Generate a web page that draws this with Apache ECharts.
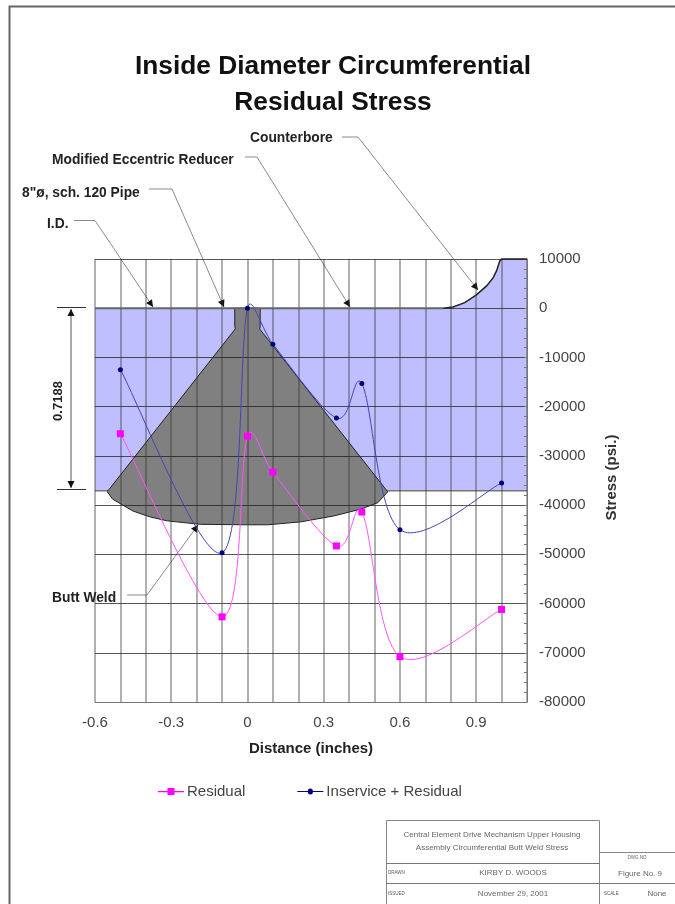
<!DOCTYPE html>
<html>
<head>
<meta charset="utf-8">
<title>Inside Diameter Circumferential Residual Stress</title>
<script src="https://cdn.jsdelivr.net/npm/echarts@6/dist/echarts.min.js"></script>
<style>
    html, body { margin: 0; padding: 0; background: #fff; }
    #chart { width: 675px; height: 904px; }
</style>
</head>
<body>
<div id="chart"></div>
<script>
const residual = [
    [-0.5, -25500], [-0.1, -62700], [0, -26000], [0.1, -33300],
    [0.35, -48300], [0.45, -41400], [0.6, -70800], [1.0, -61200],
];
const inservice = [
    [-0.5, -12500], [-0.1, -49700], [0, 0], [0.1, -7300],
    [0.35, -22300], [0.45, -15300], [0.6, -45000], [1.0, -35500],
];

// Cross section, in the chart's own distance / stress units
const counterbore = [
    [0.77, 0], [0.809, 260], [0.855, 1140], [0.901, 2700], [0.941, 4530],
    [0.967, 6220], [0.98, 7580], [0.993, 9610], [1.0, 10000], [1.1, 10000],
];
const pipeProfile = [[-0.6, 0], ...counterbore, [1.1, -37100], [-0.6, -37100]];
const pipeBore = [[-0.6, 0], [0.77, 0]];
const pipeOd = [[-0.6, -37100], [1.1, -37100]];
const weldProfile = [
    [-0.05, 0], [0.05, 0], [0.05, -3700], [0.048, -4200], [0.552, -37300], [0.513, -39500],
    [0.447, -40800], [0.34, -42200], [0.21, -43400], [0.08, -44000], [0, -44000],
    [-0.186, -43900], [-0.316, -43200], [-0.383, -42400], [-0.451, -41200],
    [-0.53, -38800], [-0.552, -37300], [-0.048, -4200], [-0.05, -3700],
];

const FONT = '"Liberation Sans", Arial, sans-serif';

function shapeSeries(points, style, z, closed) {
    return {
        type: 'custom',
        coordinateSystem: 'cartesian2d',
        silent: true,
        z,
        data: [points[0]],
        renderItem(params, api) {
            const coords = points.map((p) => api.coord(p));
            return {
                type: closed ? 'polygon' : 'polyline',
                shape: { points: coords },
                style,
            };
        },
    };
}

// control point offset along the tangent, kept short on short segments
function handle(prev, next, from, to) {
    const dx = (next[0] - prev[0]) / 6;
    const dy = (next[1] - prev[1]) / 6;
    const len = Math.hypot(dx, dy);
    const max = 0.4 * Math.hypot(to[0] - from[0], to[1] - from[1]);
    const k = len > max ? max / len : 1;
    return [dx * k, dy * k];
}

// The spreadsheet's smoothed line overshoots its points, which a line series' smooth does not do
function curveSeries(name, points, lineColor, markerColor, marker) {
    return {
        name,
        type: 'custom',
        coordinateSystem: 'cartesian2d',
        z: 6,
        itemStyle: { color: markerColor },
        encode: { x: 0, y: 1 },
        data: points,
        renderItem(params, api) {
            const i = params.dataIndex;
            const at = (k) => api.coord(points[Math.min(Math.max(k, 0), points.length - 1)]);
            const p = at(i);
            const children = [];
            if (i < points.length - 1) {
                const q = at(i + 1);
                const h1 = handle(at(i - 1), q, p, q);
                const h2 = handle(p, at(i + 2), p, q);
                children.push({
                    type: 'bezierCurve',
                    z2: 1,
                    shape: {
                        x1: p[0],
                        y1: p[1],
                        cpx1: p[0] + h1[0],
                        cpy1: p[1] + h1[1],
                        cpx2: q[0] - h2[0],
                        cpy2: q[1] - h2[1],
                        x2: q[0],
                        y2: q[1],
                    },
                    style: { stroke: lineColor, lineWidth: 1, fill: null },
                });
            }
            children.push(marker === 'rect'
                ? { type: 'rect', z2: 2, shape: { x: p[0] - 3.5, y: p[1] - 3.5, width: 7, height: 7 }, style: { fill: markerColor } }
                : { type: 'circle', z2: 2, shape: { cx: p[0], cy: p[1], r: 2.5 }, style: { fill: markerColor } });
            return { type: 'group', children };
        },
    };
}

function text(x, y, str, opts) {
    return {
        type: 'text',
        x,
        y,
        rotation: opts.rotation || 0,
        style: {
            text: str,
            font: `${opts.weight || 'normal'} ${opts.size}px ${FONT}`,
            fill: opts.color || '#222',
            align: opts.align || 'left',
            verticalAlign: 'middle',
        },
    };
}

function line(points, color, width) {
    return {
        type: 'polyline',
        shape: { points },
        style: { stroke: color || '#888', lineWidth: width || 1, fill: null },
    };
}

function arrowHead(tip, from) {
    const a = Math.atan2(tip[1] - from[1], tip[0] - from[0]);
    const len = 7;
    const w = 3.5;
    const bx = tip[0] - len * Math.cos(a);
    const by = tip[1] - len * Math.sin(a);
    return {
        type: 'polygon',
        shape: {
            points: [
                tip,
                [bx - w * Math.sin(a), by + w * Math.cos(a)],
                [bx + w * Math.sin(a), by - w * Math.cos(a)],
            ],
        },
        style: { fill: '#111' },
    };
}

function leader(points) {
    const n = points.length;
    return [line(points, '#8a8a8a'), arrowHead(points[n - 1], points[n - 2])];
}

const graphics = [
    // sheet border
    line([[9.5, 904], [9.5, 6.5], [675, 6.5]], '#666', 2),

    // callouts
    text(250, 138, 'Counterbore', { size: 13.8, weight: 'bold' }),
    text(52, 160, 'Modified Eccentric Reducer', { size: 13.8, weight: 'bold' }),
    text(22, 193, '8"ø, sch. 120 Pipe', { size: 13.8, weight: 'bold' }),
    text(47, 224, 'I.D.', { size: 13.8, weight: 'bold' }),
    text(52, 598, 'Butt Weld', { size: 13.8, weight: 'bold' }),
    ...leader([[342, 137], [358, 137], [478, 290]]),
    ...leader([[245, 157], [257, 157], [350, 307]]),
    ...leader([[149, 189], [172, 189], [224, 307]]),
    ...leader([[74, 220.5], [95, 220.5], [153, 307]]),
    ...leader([[127, 595], [147, 595], [198, 525]]),

    // wall thickness dimension
    line([[57, 307.5], [86, 307.5]], '#333'),
    line([[57, 489.5], [86, 489.5]], '#333'),
    line([[71, 309], [71, 488]], '#555'),
    arrowHead([71, 309], [71, 320]),
    arrowHead([71, 488], [71, 477]),
    text(58, 401, '0.7188', { size: 13, weight: 'bold', rotation: Math.PI / 2, align: 'center' }),

    // title block
    line([[386.5, 904], [386.5, 820.5], [599.5, 820.5], [599.5, 904]], '#888'),
    line([[386, 863.5], [600, 863.5]], '#777'),
    line([[386, 883.5], [675, 883.5]], '#777'),
    line([[600, 852.5], [675, 852.5]], '#888'),
    text(492, 835, 'Central Element Drive Mechanism Upper Housing', { size: 8, color: '#666', align: 'center' }),
    text(492, 848, 'Assembly Circumferential Butt Weld Stress', { size: 8, color: '#666', align: 'center' }),
    text(388, 873, 'DRAWN', { size: 4.5, color: '#555' }),
    text(388, 894, 'ISSUED', { size: 4.5, color: '#555' }),
    text(513, 873, 'KIRBY D. WOODS', { size: 8, color: '#666', align: 'center' }),
    text(513, 894, 'November 29, 2001', { size: 8, color: '#666', align: 'center' }),
    text(637, 858, 'DWG NO', { size: 4.5, color: '#666', align: 'center' }),
    text(640, 874, 'Figure No. 9', { size: 8, color: '#666', align: 'center' }),
    text(604, 894, 'SCALE', { size: 4.5, color: '#555' }),
    text(657, 894, 'None', { size: 8, color: '#666', align: 'center' }),
];

const option = {
    animation: false,
    backgroundColor: '#fff',
    title: {
        text: 'Inside Diameter Circumferential\nResidual Stress',
        left: 328,
        top: 44,
        textAlign: 'center',
        textStyle: {
            fontFamily: FONT,
            fontSize: 26.3,
            fontWeight: 'bold',
            lineHeight: 36,
            color: '#111',
        },
    },
    grid: { left: 95, top: 259, width: 432, height: 443 },
    legend: {
        left: 153,
        top: 779,
        itemWidth: 26,
        itemHeight: 7,
        itemGap: 52,
        data: [
            {
                name: 'Residual',
                icon: 'path://M0 3h9.5V0h7v3H26v1.2H16.5V7h-7V4.2H0z',
                itemStyle: { color: '#ff00ff', borderColor: '#ff00ff', borderWidth: 0 },
            },
            {
                name: 'Inservice + Residual',
                icon: 'path://M0 3h10.5a2.5 2.5 0 0 1 5 0H26v1.2H15.5a2.5 2.5 0 0 1-5 0H0z',
                itemStyle: { color: '#000080', borderColor: '#000080', borderWidth: 0 },
            },
        ],
        textStyle: { fontFamily: FONT, fontSize: 15, color: '#444', padding: [0, 0, 0, -2] },
    },
    xAxis: {
        type: 'value',
        min: -0.6,
        max: 1.1,
        interval: 0.1,
        z: 3,
        name: 'Distance (inches)',
        nameLocation: 'middle',
        nameGap: 39,
        nameTextStyle: { fontFamily: FONT, fontSize: 15, fontWeight: 'bold', color: '#222' },
        axisLine: { onZero: false, lineStyle: { color: '#777' } },
        axisTick: { show: false },
        axisLabel: {
            fontFamily: FONT,
            fontSize: 15,
            color: '#444',
            margin: 13,
            showMinLabel: true,
            formatter(v) {
                const tenths = Math.round(v * 10);
                return tenths % 3 === 0 ? String(tenths / 10) : '';
            },
        },
        splitLine: { show: true, lineStyle: { color: 'rgba(50,50,50,0.5)', width: 1.5 } },
    },
    yAxis: {
        type: 'value',
        position: 'right',
        min: -80000,
        max: 10000,
        interval: 10000,
        z: 3,
        name: 'Stress (psi.)',
        nameLocation: 'middle',
        nameRotate: 90,
        nameGap: 77,
        nameTextStyle: { fontFamily: FONT, fontSize: 15, fontWeight: 'bold', color: '#333', padding: [0, 0, 0, 6] },
        axisLine: { show: true, onZero: false, lineStyle: { color: '#777' } },
        axisTick: { show: true, inside: true, length: 3, lineStyle: { color: '#777' } },
        minorTick: { show: true, splitNumber: 5, length: 3, lineStyle: { color: '#777' } },
        axisLabel: { fontFamily: FONT, fontSize: 15, color: '#444', margin: 12, formatter: (v) => String(v) },
        splitLine: { show: true, lineStyle: { color: 'rgba(30,30,30,0.75)', width: 1 } },
    },
    series: [
        shapeSeries(pipeProfile, { fill: '#bfbfff' }, 1, true),
        shapeSeries(weldProfile, { fill: '#808080', stroke: '#222', lineWidth: 1 }, 2, true),
        shapeSeries(pipeBore, { stroke: '#666', lineWidth: 2, fill: null }, 4, false),
        shapeSeries(pipeOd, { stroke: '#777', lineWidth: 1.5, fill: null }, 1, false),
        shapeSeries(counterbore, { stroke: '#222', lineWidth: 1.5, fill: null }, 4, false),
        curveSeries('Residual', residual, '#ff55ff', '#ff00ff', 'rect'),
        curveSeries('Inservice + Residual', inservice, '#4444bb', '#000080', 'circle'),
    ],
    graphic: { elements: graphics },
};

document.addEventListener('DOMContentLoaded', () => {
    const chart = echarts.init(document.getElementById('chart'));
    chart.setOption(option);
});
</script>
</body>
</html>
